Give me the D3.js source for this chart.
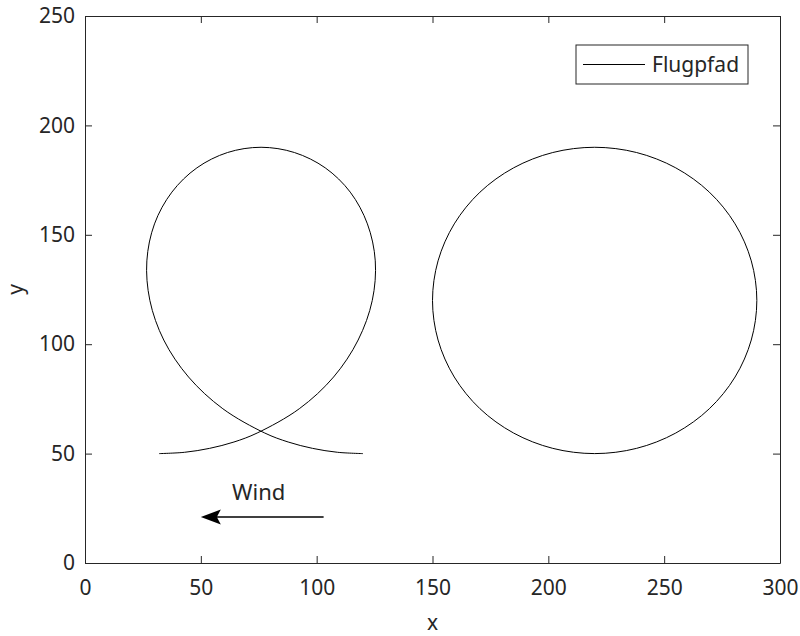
<!DOCTYPE html>
<html>
<head>
<meta charset="utf-8">
<script src="https://cdn.jsdelivr.net/npm/d3@7"></script>
<style>
    body { margin: 0; background: #fff; }
    text { font-family: "Noto Sans", "Open Sans", sans-serif; fill: #262626; }
</style>
</head>
<body>
<div id="chart"></div>
<script>
// loop flown against the wind (ground track)
var loopX = [32, 43.0, 53.8, 64.3, 74.3, 92.5, 107.3, 117.9, 124.0, 125.3, 121.9, 114.5, 103.7, 90.4, 76.0,
             61.5, 48.3, 37.5, 30.0, 26.7, 28.0, 34.0, 44.7, 59.5, 77.6, 87.7, 98.2, 109.0, 120.0];
var loopY = [50, 50.6, 52.4, 55.3, 59.4, 70.5, 85, 101.9, 120, 138.1, 155, 169.5, 180.6, 187.6, 190,
             187.6, 180.6, 169.5, 155, 138.1, 120, 101.9, 85, 70.5, 59.4, 55.3, 52.4, 50.6, 50];

// circle without wind
var circleX = [290, 287.6, 280.6, 269.5, 255, 238.1, 220, 201.9, 185, 170.5, 159.4, 152.4,
               150, 152.4, 159.4, 170.5, 185, 201.9, 220, 238.1, 255, 269.5, 280.6, 287.6];
var circleY = [120, 138.1, 155, 169.5, 180.6, 187.6, 190, 187.6, 180.6, 169.5, 155, 138.1,
               120, 101.9, 85, 70.5, 59.4, 52.4, 50, 52.4, 59.4, 70.5, 85, 101.9];

// wind arrow (data coords)
var windFrom = [103, 21];
var windTo = [50, 21];
var windLabel = [75, 29];

var xTicks = [0, 50, 100, 150, 200, 250, 300];
var yTicks = [0, 50, 100, 150, 200, 250];
var legendName = "Flugpfad";

var svgWidth = 800;
var svgHeight = 636;
var margin = { top: 16, right: 20, bottom: 73, left: 85 };
var chart_width = svgWidth - margin.left - margin.right;
var chart_height = svgHeight - margin.top - margin.bottom;
var axisColor = "#262626";

var svg = d3.select("#chart")
    .append("svg")
    .attr("width", svgWidth)
    .attr("height", svgHeight);

var chartGroup = svg.append("g")
    .attr("transform", `translate(${margin.left}, ${margin.top})`);

var xScale = d3.scaleLinear().domain([0, 300]).range([0, chart_width]);
var yScale = d3.scaleLinear().domain([0, 250]).range([chart_height, 0]);

// axes, ticks pointing inward
var bottomAxis = d3.axisBottom(xScale).tickValues(xTicks).tickSizeInner(-7).tickSizeOuter(0).tickPadding(17);
var leftAxis = d3.axisLeft(yScale).tickValues(yTicks).tickSizeInner(-7).tickSizeOuter(0).tickPadding(10);
var topAxis = d3.axisTop(xScale).tickValues(xTicks).tickSizeInner(-7).tickSizeOuter(0).tickFormat("");
var rightAxis = d3.axisRight(yScale).tickValues(yTicks).tickSizeInner(-7).tickSizeOuter(0).tickFormat("");

function styleAxis(g) {
    g.selectAll("path, line").attr("stroke", axisColor);
    g.selectAll("text").attr("font-size", 21).attr("fill", axisColor)
        .style("font-family", "'Noto Sans', 'Open Sans', sans-serif");
}

chartGroup.append("g").attr("transform", `translate(0, ${chart_height})`).call(bottomAxis).call(styleAxis);
chartGroup.append("g").call(leftAxis).call(styleAxis);
chartGroup.append("g").call(topAxis).call(styleAxis);
chartGroup.append("g").attr("transform", `translate(${chart_width}, 0)`).call(rightAxis).call(styleAxis);

// flight path
var line = d3.line()
    .x(d => xScale(d[0]))
    .y(d => yScale(d[1]))
    .curve(d3.curveCatmullRom.alpha(0.5));

var lineClosed = d3.line()
    .x(d => xScale(d[0]))
    .y(d => yScale(d[1]))
    .curve(d3.curveCatmullRomClosed.alpha(0.5));

chartGroup.append("path")
    .datum(d3.zip(loopX, loopY))
    .attr("d", line)
    .attr("fill", "none")
    .attr("stroke", "#000")
    .attr("stroke-width", 1);

chartGroup.append("path")
    .datum(d3.zip(circleX, circleY))
    .attr("d", lineClosed)
    .attr("fill", "none")
    .attr("stroke", "#000")
    .attr("stroke-width", 1);

// wind arrow
var tipX = xScale(windTo[0]), tipY = yScale(windTo[1]);
chartGroup.append("line")
    .attr("x1", xScale(windFrom[0]))
    .attr("y1", yScale(windFrom[1]))
    .attr("x2", tipX + 15)
    .attr("y2", tipY)
    .attr("stroke", "#000")
    .attr("stroke-width", 1.5);

chartGroup.append("path")
    .attr("d", `M${tipX},${tipY} L${tipX + 20},${tipY - 7.5} L${tipX + 16},${tipY} L${tipX + 20},${tipY + 7.5} Z`)
    .attr("fill", "#000");

chartGroup.append("text")
    .attr("x", xScale(windLabel[0]))
    .attr("y", yScale(windLabel[1]))
    .attr("text-anchor", "middle")
    .attr("font-size", 22)
    .attr("fill", "#000")
    .text("Wind");

// axis labels
chartGroup.append("text")
    .attr("x", chart_width / 2)
    .attr("y", chart_height + 67)
    .attr("text-anchor", "middle")
    .attr("font-size", 21)
    .text("x");

chartGroup.append("text")
    .attr("transform", "rotate(-90)")
    .attr("x", -chart_height / 2)
    .attr("y", -margin.left + 23)
    .attr("text-anchor", "middle")
    .attr("font-size", 21)
    .text("y");

// legend
var legend = chartGroup.append("g")
    .attr("transform", `translate(${576 - margin.left}, ${45 - margin.top})`);

legend.append("rect")
    .attr("width", 172)
    .attr("height", 39)
    .attr("fill", "#fff")
    .attr("stroke", axisColor)
    .attr("stroke-width", 1);

legend.append("line")
    .attr("x1", 7).attr("x2", 69)
    .attr("y1", 19.5).attr("y2", 19.5)
    .attr("stroke", "#000");

legend.append("text")
    .attr("x", 76)
    .attr("y", 27)
    .attr("font-size", 21)
    .attr("fill", "#000")
    .text(legendName);
</script>
</body>
</html>
